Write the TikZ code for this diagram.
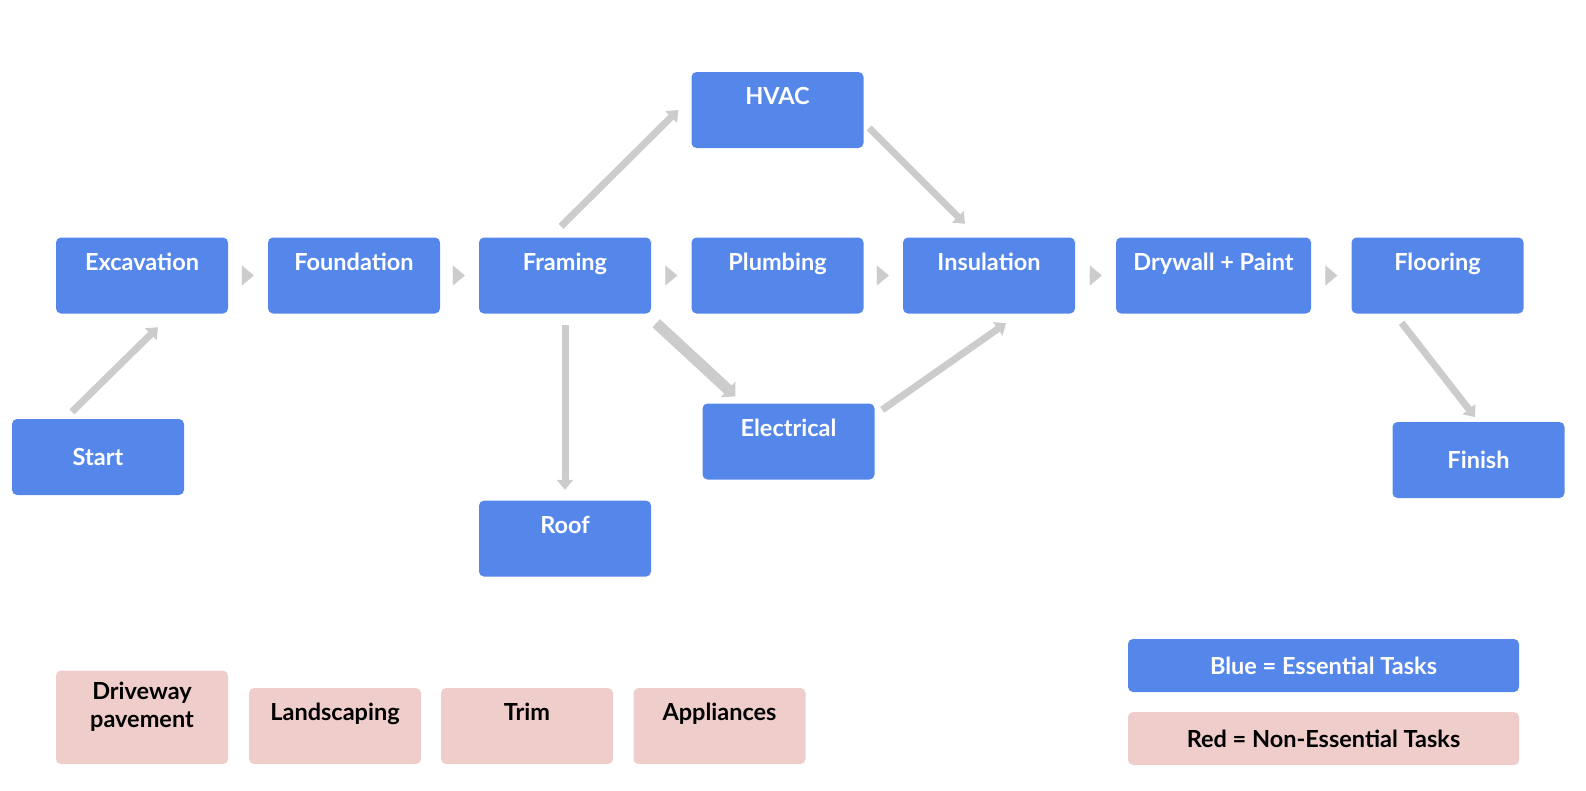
\documentclass[tikz,border=0pt]{standalone}
\usepackage{fontspec}
\setmainfont{Lato}
\usetikzlibrary{arrows.meta}
\definecolor{taskblue}{RGB}{85,135,235}
\definecolor{optpink}{RGB}{238,205,203}
\definecolor{arrowgray}{RGB}{204,204,204}
\tikzset{
	box/.style={rectangle, rounded corners=5pt, inner xsep=0pt, inner ysep=0pt, minimum width=172pt, font=\fontsize{23.5}{28}\selectfont\bfseries},
	task/.style={box, fill=taskblue, text=white, text height=32.5pt, text depth=43.5pt},
	ends/.style={box, fill=taskblue, text=white, text height=46.5pt, text depth=29.5pt},
	extra/.style={box, fill=optpink, text=black, text height=32.5pt, text depth=43.5pt},
	key/.style={box, minimum width=391pt, text height=35pt, text depth=18pt},
	next/.style={draw=arrowgray, line width=0.1pt, shorten <=14pt, shorten >=14pt, -{Triangle[length=12pt,width=20pt]}},
	flow/.style={draw=arrowgray, line width=7pt, -{Triangle[length=10pt,width=16pt]}},
}
\begin{document}
\begin{tikzpicture}[x=1pt,y=-1pt]
		\useasboundingbox (0,0) rectangle (1586,790);
		% main row
		\node[task] (Exc) at (142,275.5) {Excavation};
		\node[task] (Fou) at (354,275.5) {Foundation};
		\node[task] (Fra) at (565,275.5) {Framing};
		\node[task] (Plu) at (777.5,275.5) {Plumbing};
		\node[task] (Ins) at (989,275.5) {Insulation};
		\node[task, minimum width=195pt] (Dry) at (1213.5,275.5) {Drywall + Paint};
		\node[task] (Flo) at (1437.5,275.5) {Flooring};
		\node[task] (HVAC) at (777.5,110) {HVAC};
		\node[task] (Ele) at (788.5,441.5) {Electrical};
		\node[task] (Roof) at (565,538.6) {Roof};
		\node[ends] (Start) at (98,457) {Start};
		\node[ends] (Fin) at (1478.5,460) {Finish};
		% non-essential tasks
		\node[extra, align=center, text height=57pt, text depth=36.5pt] (Drv) at (142,717.3) {Driveway\\pavement};
		\node[extra] (Lnd) at (335,726) {Landscaping};
		\node[extra] (Trim) at (527,726) {Trim};
		\node[extra] (App) at (719.5,726) {Appliances};
		% legend
		\node[key, fill=taskblue, text=white] (KeyB) at (1323.5,665.5) {Blue = Essential Tasks};
		\node[key, fill=optpink, text=black] (KeyR) at (1323.5,738.5) {Red = Non-Essential Tasks};
		\draw[next] (Exc.east) to (Fou.west);
		\draw[next] (Fou.east) to (Fra.west);
		\draw[next] (Fra.east) to (Plu.west);
		\draw[next] (Plu.east) to (Ins.west);
		\draw[next] (Ins.east) to (Dry.west);
		\draw[next] (Dry.east) to (Flo.west);
		\draw[flow] ([xshift=-26pt,yshift=7pt]Start.north) to ([xshift=16pt,yshift=-13.5pt]Exc.south);
		\draw[flow] ([xshift=-4pt,yshift=11pt]Fra.north) to ([xshift=-13pt]HVAC.west);
		\draw[flow] ([xshift=5.5pt,yshift=-18pt]HVAC.east) to ([xshift=-24pt,yshift=13.5pt]Ins.north);
		\draw[flow] ([yshift=-11.5pt]Fra.south) to ([yshift=10.6pt]Roof.north);
		\draw[flow, line width=11pt, -{Triangle[length=10pt,width=21pt]}] ([xshift=5pt,yshift=-9.5pt]Fra.south east) to ([xshift=33pt,yshift=7pt]Ele.north west);
		\draw[flow] ([xshift=7.5pt,yshift=-6.5pt]Ele.north east) to ([xshift=17pt,yshift=-9.5pt]Ins.south);
		\draw[flow] ([xshift=-36pt,yshift=-9pt]Flo.south) to ([xshift=-3.5pt,yshift=4.7pt]Fin.north);
\end{tikzpicture}
\end{document}
